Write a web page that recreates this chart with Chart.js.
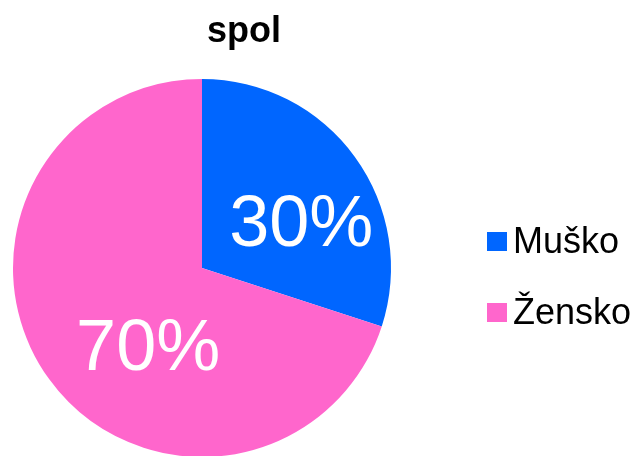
<!DOCTYPE html>
<html>
<head>
<meta charset="utf-8">
<script src="https://cdn.jsdelivr.net/npm/chart.js@4.4.1/dist/chart.umd.min.js"></script>
<style>
  html, body { margin: 0; padding: 0; background: #fff; overflow: hidden; }
  #wrap { width: 641px; height: 460px; }
</style>
</head>
<body>
<div id="wrap"><canvas id="grafico"></canvas></div>
<script>
const titulo = "spol";
const categorias = ["Muško", "Žensko"];
const valores = [30, 70];
const rotulos = ["30%", "70%"];
const cores = ["#0066ff", "#ff66cc"];

const fonte = "'Liberation Sans', Arial, sans-serif";

// titulo, legenda lateral e rotulos das fatias
const extras = {
  id: "extras",
  afterDraw(chart) {
    const ctx = chart.ctx;
    ctx.save();

    ctx.fillStyle = "#000";
    ctx.textAlign = "center";
    ctx.textBaseline = "alphabetic";
    ctx.font = "bold 36px " + fonte;
    ctx.fillText(titulo, 244, 42);

    ctx.textAlign = "left";
    ctx.font = "36px " + fonte;
    categorias.forEach((c, i) => {
      const y = 253 + i * 71;
      ctx.fillStyle = cores[i];
      ctx.fillRect(487, y - 21, 20, 19);
      ctx.fillStyle = "#000";
      ctx.fillText(c, 513, y);
    });

    // posicao dos rotulos relativa ao centro, em fracao do raio
    const desvio = [[0.525, -0.115], [-0.285, 0.54]];
    ctx.fillStyle = "#fff";
    ctx.textAlign = "center";
    ctx.font = "72px " + fonte;
    chart.getDatasetMeta(0).data.forEach((arc, i) => {
      const p = arc.getProps(["x", "y", "outerRadius"], true);
      ctx.fillText(rotulos[i], p.x + desvio[i][0] * p.outerRadius, p.y + desvio[i][1] * p.outerRadius);
    });

    ctx.restore();
  }
};

new Chart(document.getElementById("grafico"), {
  type: "pie",
  data: {
    labels: categorias,
    datasets: [{
      data: valores,
      backgroundColor: cores,
      borderWidth: 0
    }]
  },
  options: {
    responsive: true,
    maintainAspectRatio: false,
    animation: false,
    layout: { padding: { left: 13, top: 79, right: 250, bottom: 3 } },
    plugins: {
      legend: { display: false },
      title: { display: false },
      tooltip: { enabled: false }
    }
  },
  plugins: [extras]
});
</script>
</body>
</html>
